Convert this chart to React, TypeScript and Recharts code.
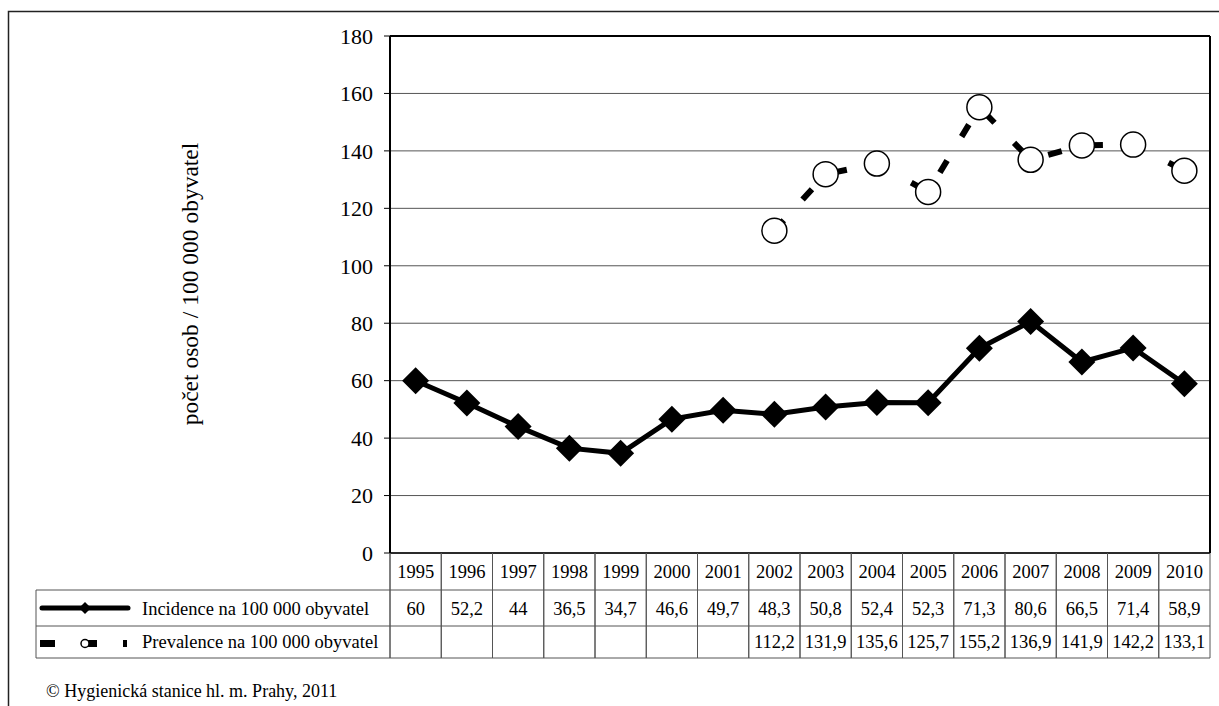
import React from 'react';
import { LineChart, Line, XAxis, YAxis, CartesianGrid } from 'recharts';

const years = [
  '1995', '1996', '1997', '1998', '1999', '2000', '2001', '2002',
  '2003', '2004', '2005', '2006', '2007', '2008', '2009', '2010',
];
const incidence = [60, 52.2, 44, 36.5, 34.7, 46.6, 49.7, 48.3, 50.8, 52.4, 52.3, 71.3, 80.6, 66.5, 71.4, 58.9];
const prevalence: (number | null)[] = [
  null, null, null, null, null, null, null,
  112.2, 131.9, 135.6, 125.7, 155.2, 136.9, 141.9, 142.2, 133.1,
];
const yTicks = [0, 20, 40, 60, 80, 100, 120, 140, 160, 180];

const incidenceName = 'Incidence na 100 000 obyvatel';
const prevalenceName = 'Prevalence na 100 000 obyvatel';
const yTitle = 'počet osob / 100 000 obyvatel';
const footer = '© Hygienická stanice hl. m. Prahy, 2011';

const data = years.map((year, i) => ({ year, incidence: incidence[i], prevalence: prevalence[i] }));

// layout
const W = 1219;
const H = 706;
const PLOT_L = 390;
const PLOT_R = 1210;
const PLOT_T = 36;
const PLOT_B = 553;
const ROW1 = 590;
const ROW2 = 626;
const TABLE_B = 658;
const LEG_L = 36;
const COL_W = (PLOT_R - PLOT_L) / years.length;
const FONT = 'Liberation Serif, Tinos, DejaVu Serif, serif';
const GRID = '#555';
const TABLE_FS = 18.5;

const fmt = (v: number | null | undefined) => (v == null ? '' : String(v).replace('.', ','));

function TableTick(props: any) {
  const { x, payload } = props;
  const i = payload?.index ?? props.index ?? 0;
  const half = COL_W / 2;
  return (
    <g>
      <line x1={x - half} x2={x - half} y1={PLOT_B} y2={TABLE_B} stroke={GRID} />
      <line x1={x + half} x2={x + half} y1={PLOT_B} y2={TABLE_B} stroke={GRID} />
      <text x={x} y={578} textAnchor="middle" style={{ fontSize: TABLE_FS, fontFamily: FONT }} fill="#000">{payload.value}</text>
      <text x={x} y={615} textAnchor="middle" style={{ fontSize: TABLE_FS, fontFamily: FONT }} fill="#000">{fmt(incidence[i])}</text>
      <text x={x} y={648} textAnchor="middle" style={{ fontSize: TABLE_FS, fontFamily: FONT }} fill="#000">{fmt(prevalence[i])}</text>
    </g>
  );
}

function Diamond(props: any) {
  const { cx, cy, index } = props;
  if (cx == null || cy == null) return null;
  const s = 13.5;
  return (
    <path
      key={`d-${index}`}
      d={`M${cx},${cy - s}L${cx + s},${cy}L${cx},${cy + s}L${cx - s},${cy}Z`}
      fill="#000"
    />
  );
}

export default function App() {
  return (
    <div style={{ position: 'relative', width: W, height: H, background: '#fff', fontFamily: FONT }}>
      <style>{'body{margin:0} svg text{font-family:"Liberation Serif", serif}'}</style>
      <LineChart
        width={W}
        height={H}
        data={data}
        margin={{ top: PLOT_T, right: W - PLOT_R, bottom: H - TABLE_B, left: PLOT_L - 60 }}
      >
        <CartesianGrid vertical={false} stroke={GRID} strokeWidth={1} />
        <XAxis
          dataKey="year"
          scale="band"
          interval={0}
          height={TABLE_B - PLOT_B}
          tickSize={0}
          tickMargin={0}
          tickLine={false}
          axisLine={{ stroke: '#000', strokeWidth: 1.5 }}
          tick={<TableTick />}
        />
        <YAxis
          width={60}
          domain={[0, 180]}
          ticks={yTicks}
          interval={0}
          tickSize={6}
          tickMargin={11}
          tickLine={{ stroke: '#000' }}
          axisLine={{ stroke: '#000', strokeWidth: 2 }}
          tick={{ fontSize: 22, fill: '#000' }}
        />
        <Line
          dataKey="incidence"
          name={incidenceName}
          type="linear"
          stroke="#000"
          strokeWidth={5}
          dot={<Diamond />}
          activeDot={false}
          isAnimationActive={false}
        />
        <Line
          dataKey="prevalence"
          name={prevalenceName}
          type="linear"
          stroke="#000"
          strokeWidth={6}
          strokeDasharray="14 28"
          dot={{ r: 12.5, fill: '#fff', stroke: '#000', strokeWidth: 1.5, strokeDasharray: '' }}
          activeDot={false}
          connectNulls={false}
          isAnimationActive={false}
        />
      </LineChart>
      <svg
        width={W}
        height={H}
        style={{ position: 'absolute', left: 0, top: 0, pointerEvents: 'none' }}
      >
        {/* outer frame */}
        <rect x={8.5} y={11.5} width={W + 10} height={H + 10} fill="none" stroke="#222" strokeWidth={1.5} />
        {/* plot frame */}
        <line x1={PLOT_L} x2={PLOT_R} y1={PLOT_T} y2={PLOT_T} stroke="#000" strokeWidth={2} />
        <line x1={PLOT_R} x2={PLOT_R} y1={PLOT_T} y2={PLOT_B} stroke="#000" strokeWidth={2} />
        {/* data table rows */}
        <line x1={LEG_L} x2={PLOT_R} y1={ROW1} y2={ROW1} stroke={GRID} />
        <line x1={LEG_L} x2={PLOT_R} y1={ROW2} y2={ROW2} stroke={GRID} />
        <line x1={LEG_L} x2={PLOT_R} y1={TABLE_B} y2={TABLE_B} stroke={GRID} />
        <line x1={LEG_L} x2={LEG_L} y1={ROW1} y2={TABLE_B} stroke={GRID} />
        <line x1={PLOT_L} x2={PLOT_L} y1={PLOT_B} y2={TABLE_B} stroke={GRID} />
        {/* legend keys */}
        <line x1={42} x2={128} y1={608} y2={608} stroke="#000" strokeWidth={5} strokeLinecap="round" />
        <path d="M85,602L91,608L85,614L79,608Z" fill="#000" />
        <rect x={40} y={640} width={15} height={7} fill="#000" />
        <rect x={86} y={640} width={11} height={7} fill="#000" />
        <circle cx={85} cy={643.5} r={4} fill="#fff" stroke="#000" strokeWidth={1.5} />
        <rect x={123} y={640} width={4} height={7} fill="#000" />
        <text x={142} y={615} style={{ fontSize: TABLE_FS }} fill="#000">{incidenceName}</text>
        <text x={142} y={648} style={{ fontSize: TABLE_FS }} fill="#000">{prevalenceName}</text>
        {/* axis title */}
        <text
          x={190}
          y={284}
          transform="rotate(-90 190 284)"
          textAnchor="middle"
          dominantBaseline="central"
          style={{ fontSize: 23.5 }}
          fill="#000"
        >
          {yTitle}
        </text>
        <text x={46} y={697} style={{ fontSize: 18 }} fill="#000">{footer}</text>
      </svg>
    </div>
  );
}
